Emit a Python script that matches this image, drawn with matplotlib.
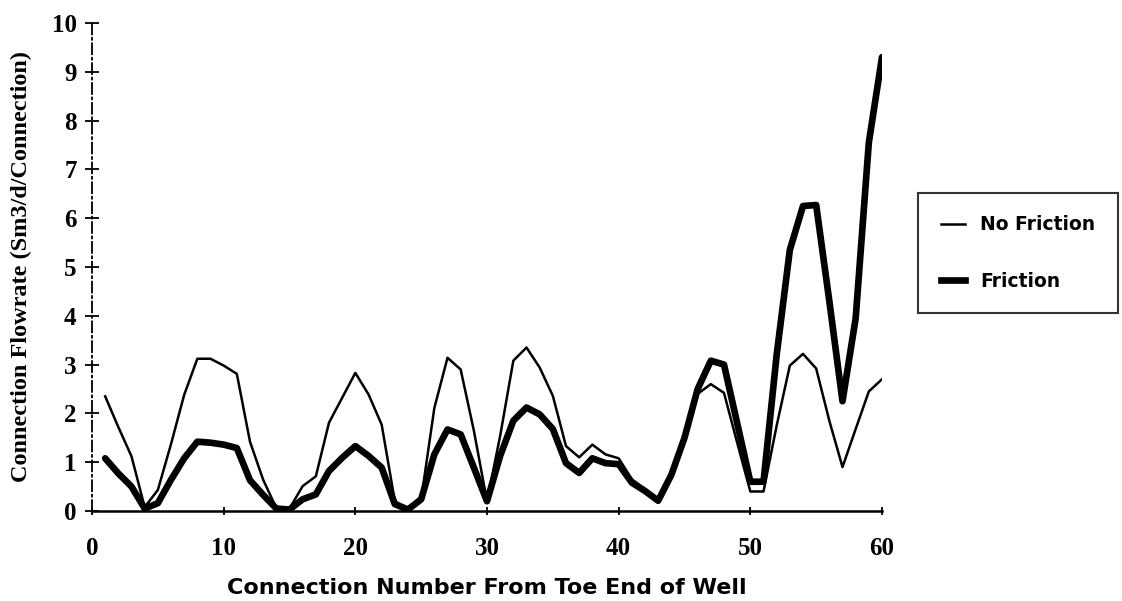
import matplotlib
matplotlib.use("Agg")
import matplotlib.pyplot as plt
from matplotlib.lines import Line2D

connection = list(range(1, 61))
no_friction = [2.35, 1.72, 1.12, 0.08, 0.43, 1.37, 2.38, 3.12, 3.12, 2.98,
               2.81, 1.42, 0.64, 0.06, 0.05, 0.51, 0.71, 1.81, 2.32, 2.83,
               2.39, 1.77, 0.20, 0.05, 0.24, 2.11, 3.14, 2.90, 1.65, 0.20,
               1.54, 3.08, 3.35, 2.94, 2.36, 1.33, 1.10, 1.36, 1.16, 1.08,
               0.65, 0.45, 0.24, 0.74, 1.55, 2.40, 2.60, 2.42, 1.40, 0.40,
               0.40, 1.75, 2.98, 3.22, 2.92, 1.85, 0.90, 1.68, 2.45, 2.70]
friction = [1.08, 0.77, 0.50, 0.05, 0.16, 0.64, 1.08, 1.42, 1.40, 1.36,
            1.29, 0.63, 0.33, 0.05, 0.03, 0.24, 0.34, 0.82, 1.09, 1.33,
            1.13, 0.89, 0.14, 0.03, 0.24, 1.16, 1.67, 1.57, 0.89, 0.20,
            1.13, 1.85, 2.12, 1.98, 1.68, 0.98, 0.78, 1.08, 0.98, 0.96,
            0.58, 0.41, 0.21, 0.74, 1.50, 2.50, 3.08, 3.00, 1.80, 0.60,
            0.60, 3.20, 5.35, 6.25, 6.27, 4.30, 2.25, 3.95, 7.55, 9.30]
x_ticks = [0, 10, 20, 30, 40, 50, 60]
y_ticks = list(range(0, 11))
series_names = ["No Friction", "Friction"]
x_label = "Connection Number From Toe End of Well"
y_label = "Connection Flowrate (Sm3/d/Connection)"

fig = plt.figure(figsize=(11.22, 6.01), dpi=100)
ax = fig.add_axes([92/1122, 90/601, (882-92)/1122, (511-23)/601])

ax.plot(connection, no_friction, color="black", lw=1.8, solid_joinstyle="round")
ax.plot(connection, friction, color="black", lw=4.8, solid_joinstyle="round",
        solid_capstyle="round")

ax.set_xlim(0, 60)
ax.set_ylim(0, 10)
ax.set_xticks(x_ticks)
ax.set_yticks(y_ticks)
ax.spines["top"].set_visible(False)
ax.spines["right"].set_visible(False)
ax.spines["left"].set_linestyle((0, (6, 2, 1, 2)))
ax.spines["left"].set_linewidth(1.3)
ax.spines["bottom"].set_linewidth(1.8)
ax.tick_params(direction="inout", length=10, width=1.3, colors="black")
ax.tick_params(axis="x", length=6, pad=16)
ax.tick_params(axis="y", pad=6)
for lab in ax.get_xticklabels() + ax.get_yticklabels():
    lab.set_fontfamily("Liberation Serif")
    lab.set_fontweight("bold")
    lab.set_fontsize(18)

ax.set_xlabel(x_label, fontfamily="DejaVu Sans", fontweight="bold",
              fontsize=16, labelpad=13)
ax.set_ylabel(y_label, fontfamily="Liberation Serif", fontweight="bold",
              fontsize=17.5, labelpad=14)

handles = [Line2D([], [], color="black", lw=1.8),
           Line2D([], [], color="black", lw=4.8)]
leg = fig.legend(handles, series_names, loc="upper left",
                 bbox_to_anchor=(918/1122, 1 - 193/601),
                 borderaxespad=0,
                 frameon=True, fancybox=False, edgecolor="black",
                 handlelength=1.3, handletextpad=0.8, labelspacing=2.0,
                 borderpad=1.2,
                 prop={"family": "DejaVu Sans", "weight": "bold", "size": 13.5})
leg.get_frame().set_linewidth(1.5)

fig.savefig("out.png", dpi=100)
